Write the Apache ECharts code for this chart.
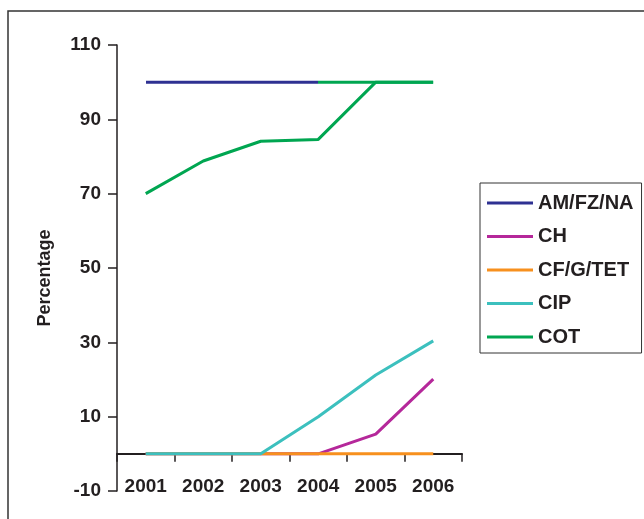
<!DOCTYPE html>
<html>
<head>
<meta charset="utf-8">
<script src="https://cdn.jsdelivr.net/npm/echarts@6/dist/echarts.min.js"></script>
<style>
  html, body { margin: 0; padding: 0; background: #fff; }
  #chart { width: 644px; height: 519px; }
</style>
</head>
<body>
<div id="chart"></div>
<script>
const years = ['2001', '2002', '2003', '2004', '2005', '2006'];
const yTicks = [-10, 10, 30, 50, 70, 90, 110];
const amfzna = [100, 100, 100, 100, 100, 100];
const ch = [0, 0, 0, 0, 5.3, 20.1];
const cfgtet = [0, 0, 0, 0, 0, 0];
const cip = [0, 0, 0, 10, 21.2, 30.4];
const cot = [70, 78.8, 84.1, 84.6, 100, 100];
const seriesNames = ['AM/FZ/NA', 'CH', 'CF/G/TET', 'CIP', 'COT'];

const colors = {
  'AM/FZ/NA': '#2E3192',
  'CH': '#B5289A',
  'CF/G/TET': '#F7901E',
  'CIP': '#3CC0BE',
  'COT': '#00A651'
};
const values = [amfzna, ch, cfgtet, cip, cot];
const font = '"Liberation Sans", Arial, Helvetica, sans-serif';

const chart = echarts.init(document.getElementById('chart'), null, { renderer: 'canvas' });
chart.setOption({
  animation: false,
  backgroundColor: '#ffffff',
  graphic: [{
    type: 'rect',
    shape: { x: 8, y: 11, width: 800, height: 700 },
    style: { fill: 'none', stroke: '#333333', lineWidth: 1.5 },
    silent: true,
    z: -10
  }],
  grid: { left: 117, right: 182, top: 45, bottom: 28, containLabel: false, outerBoundsMode: 'none' },
  legend: {
    orient: 'vertical',
    left: 480,
    top: 183,
    padding: [10, 8, 6, 7],
    borderColor: '#333333',
    borderWidth: 1,
    itemWidth: 46,
    itemHeight: 3,
    itemGap: 13.5,
    itemTextGap: 4,
    icon: 'rect',
    textStyle: { fontFamily: font, fontWeight: 'bold', fontSize: 20, color: '#231F20', lineHeight: 20 },
    data: seriesNames.map(n => ({ name: n, itemStyle: { color: colors[n] } }))
  },
  visualMap: {
    show: false,
    type: 'piecewise',
    seriesIndex: 0,
    dimension: 0,
    pieces: [
      { gte: 0, lt: 3, color: colors['AM/FZ/NA'] },
      { gte: 3, lte: 5, color: colors['COT'] }
    ]
  },
  xAxis: {
    type: 'category',
    data: years,
    boundaryGap: true,
    axisLine: { onZero: true, lineStyle: { color: '#231F20', width: 2 } },
    axisTick: { show: true, length: 8, inside: false, lineStyle: { color: '#231F20', width: 1.5 } },
    axisLabel: { margin: -14, fontFamily: font, fontWeight: 'bold', fontSize: 19, color: '#231F20' },
    splitLine: { show: false }
  },
  yAxis: {
    type: 'value',
    min: -10,
    max: 110,
    name: 'Percentage',
    nameLocation: 'middle',
    nameRotate: 90,
    nameGap: 63,
    nameTextStyle: { fontFamily: font, fontWeight: 'bold', fontSize: 18, color: '#231F20', padding: [0, 20, 0, 0] },
    axisLine: { show: true, lineStyle: { color: '#231F20', width: 1.5 } },
    axisTick: { show: true, length: 9, customValues: yTicks, lineStyle: { color: '#231F20', width: 1.5 } },
    axisLabel: { margin: 16, customValues: yTicks, fontFamily: font, fontWeight: 'bold', fontSize: 19, color: '#231F20' },
    splitLine: { show: false }
  },
  series: seriesNames.map((n, i) => ({
    name: n,
    type: 'line',
    data: values[i],
    showSymbol: false,
    symbol: 'none',
    itemStyle: { color: colors[n] },
    lineStyle: i === 0 ? { width: 3 } : { color: colors[n], width: 3 },
    z: 2 + i
  }))
});
</script>
</body>
</html>
